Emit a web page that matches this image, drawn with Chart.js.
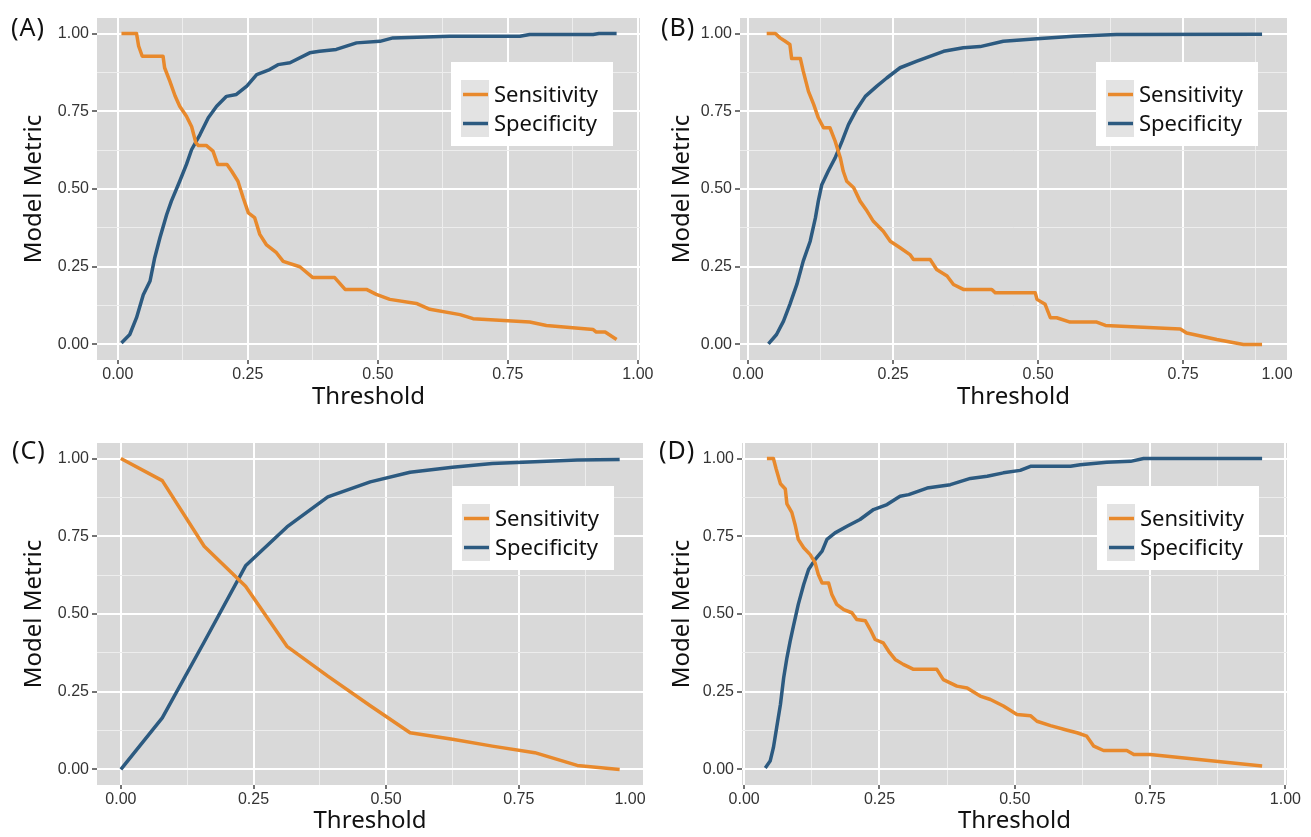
<!DOCTYPE html>
<html>
<head>
<meta charset="utf-8">
<script src="https://cdn.jsdelivr.net/npm/chart.js@4.4.0/dist/chart.umd.min.js"></script>
<style>
  body { margin: 0; background: #fff; }
  #wrap { position: relative; width: 1311px; height: 837px; overflow: hidden; }
  .panel { position: absolute; }
  .tag { position: absolute; font-family: "Noto Sans"; font-size: 25px; line-height: 1; color: #111; letter-spacing: 1px; }
</style>
</head>
<body>
<div id="wrap">
  <canvas id="cA" class="panel" width="655" height="418" style="left:0;top:0"></canvas>
  <canvas id="cB" class="panel" width="656" height="418" style="left:655px;top:0"></canvas>
  <canvas id="cC" class="panel" width="655" height="419" style="left:0;top:418px"></canvas>
  <canvas id="cD" class="panel" width="656" height="419" style="left:655px;top:418px"></canvas>
  <div class="tag" style="left:11px;top:14px">(A)</div>
  <div class="tag" style="left:661px;top:14px">(B)</div>
  <div class="tag" style="left:12px;top:437px">(C)</div>
  <div class="tag" style="left:659px;top:437px">(D)</div>
</div>
<script>
// 시리즈 이름
var seriesNames = ['Sensitivity', 'Specificity'];
var lineColor = ['#E8892C', '#2C5A80'];
// 눈금 (0.125 간격, 0.25 는 major)
var gridTicks = [0, 0.125, 0.25, 0.375, 0.5, 0.625, 0.75, 0.875, 1.0];

// (A)
var aSensThr = [0.007, 0.036, 0.040, 0.047, 0.087, 0.090, 0.100, 0.110, 0.119, 0.132, 0.142, 0.150, 0.155, 0.170, 0.183, 0.192, 0.210, 0.219, 0.231, 0.241, 0.251, 0.263, 0.273, 0.286, 0.305, 0.318, 0.350, 0.375, 0.417, 0.437, 0.478, 0.497, 0.523, 0.574, 0.600, 0.658, 0.683, 0.792, 0.824, 0.914, 0.920, 0.937, 0.959];
var aSensVal = [1.0, 1.0, 0.96, 0.927, 0.927, 0.89, 0.847, 0.80, 0.766, 0.734, 0.70, 0.649, 0.64, 0.64, 0.622, 0.579, 0.579, 0.557, 0.525, 0.472, 0.423, 0.408, 0.354, 0.32, 0.295, 0.267, 0.25, 0.215, 0.215, 0.177, 0.177, 0.161, 0.145, 0.132, 0.113, 0.096, 0.083, 0.072, 0.061, 0.048, 0.04, 0.04, 0.016];
var aSpecThr = [0.007, 0.023, 0.036, 0.049, 0.062, 0.071, 0.081, 0.094, 0.103, 0.119, 0.132, 0.142, 0.158, 0.174, 0.190, 0.209, 0.228, 0.248, 0.267, 0.292, 0.308, 0.331, 0.369, 0.388, 0.420, 0.459, 0.504, 0.529, 0.638, 0.773, 0.792, 0.914, 0.925, 0.959];
var aSpecVal = [0.005, 0.032, 0.086, 0.16, 0.204, 0.279, 0.343, 0.418, 0.461, 0.525, 0.579, 0.627, 0.675, 0.729, 0.766, 0.798, 0.804, 0.831, 0.868, 0.884, 0.90, 0.906, 0.938, 0.943, 0.949, 0.97, 0.975, 0.986, 0.991, 0.991, 0.997, 0.997, 1.0, 1.0];

// (B)
var bSensThr = [0.032, 0.047, 0.055, 0.064, 0.072, 0.075, 0.090, 0.095, 0.104, 0.113, 0.121, 0.130, 0.141, 0.150, 0.159, 0.164, 0.170, 0.182, 0.193, 0.205, 0.216, 0.233, 0.245, 0.262, 0.279, 0.285, 0.314, 0.325, 0.343, 0.354, 0.371, 0.420, 0.426, 0.495, 0.498, 0.512, 0.521, 0.532, 0.555, 0.601, 0.616, 0.745, 0.756, 0.808, 0.854, 0.886];
var bSensVal = [1.0, 1.0, 0.986, 0.975, 0.965, 0.92, 0.92, 0.879, 0.814, 0.772, 0.729, 0.697, 0.697, 0.654, 0.60, 0.557, 0.525, 0.504, 0.461, 0.429, 0.396, 0.364, 0.332, 0.311, 0.289, 0.273, 0.273, 0.241, 0.22, 0.193, 0.177, 0.177, 0.166, 0.166, 0.145, 0.129, 0.086, 0.086, 0.072, 0.072, 0.061, 0.05, 0.037, 0.016, 0.0, 0.0];
var bSpecThr = [0.035, 0.049, 0.061, 0.072, 0.084, 0.095, 0.107, 0.116, 0.121, 0.127, 0.138, 0.150, 0.162, 0.173, 0.187, 0.202, 0.222, 0.239, 0.262, 0.291, 0.337, 0.371, 0.400, 0.440, 0.498, 0.561, 0.635, 0.886];
var bSpecVal = [0.002, 0.032, 0.075, 0.129, 0.193, 0.268, 0.332, 0.407, 0.461, 0.514, 0.557, 0.60, 0.654, 0.707, 0.756, 0.798, 0.831, 0.857, 0.89, 0.911, 0.943, 0.954, 0.958, 0.975, 0.983, 0.991, 0.997, 0.998];

// (C)
var cThr = [0, 0.078, 0.157, 0.235, 0.313, 0.39, 0.47, 0.545, 0.625, 0.70, 0.78, 0.86, 0.94];
var cSensVal = [1.0, 0.929, 0.718, 0.589, 0.396, 0.30, 0.205, 0.118, 0.097, 0.075, 0.054, 0.013, 0.0];
var cSpecVal = [0.0, 0.166, 0.41, 0.655, 0.78, 0.877, 0.925, 0.956, 0.972, 0.984, 0.99, 0.995, 0.997];

// (D)
var dSensThr = [0.042, 0.054, 0.059, 0.067, 0.076, 0.079, 0.088, 0.094, 0.100, 0.110, 0.122, 0.131, 0.137, 0.144, 0.156, 0.162, 0.171, 0.184, 0.199, 0.208, 0.224, 0.233, 0.242, 0.257, 0.267, 0.279, 0.294, 0.313, 0.356, 0.368, 0.393, 0.412, 0.436, 0.455, 0.479, 0.504, 0.529, 0.541, 0.566, 0.597, 0.615, 0.633, 0.646, 0.664, 0.707, 0.720, 0.750, 0.957];
var dSensVal = [1.0, 1.0, 0.967, 0.919, 0.902, 0.854, 0.827, 0.788, 0.74, 0.713, 0.691, 0.665, 0.627, 0.60, 0.60, 0.563, 0.531, 0.514, 0.504, 0.482, 0.478, 0.45, 0.418, 0.407, 0.38, 0.354, 0.338, 0.322, 0.322, 0.289, 0.268, 0.262, 0.236, 0.225, 0.204, 0.177, 0.173, 0.155, 0.141, 0.126, 0.118, 0.107, 0.075, 0.061, 0.061, 0.048, 0.048, 0.011];
var dSpecThr = [0.039, 0.048, 0.054, 0.060, 0.067, 0.073, 0.079, 0.085, 0.091, 0.100, 0.110, 0.119, 0.131, 0.144, 0.153, 0.168, 0.190, 0.214, 0.239, 0.264, 0.288, 0.304, 0.338, 0.381, 0.418, 0.449, 0.479, 0.510, 0.529, 0.603, 0.621, 0.670, 0.714, 0.738, 0.957];
var dSpecVal = [0.005, 0.027, 0.07, 0.134, 0.209, 0.295, 0.359, 0.413, 0.461, 0.531, 0.595, 0.643, 0.675, 0.702, 0.74, 0.761, 0.782, 0.804, 0.836, 0.852, 0.879, 0.884, 0.905, 0.916, 0.936, 0.943, 0.954, 0.962, 0.975, 0.975, 0.98, 0.988, 0.991, 1.0, 1.0];

const tickFont = { family: 'Liberation Sans', size: 16 };
const tickColor = '#333';
const titleFont = { family: 'Noto Sans', size: 24 };

// 패널 배경 (ggplot 회색)
const plotBg = {
  id: 'plotBg',
  beforeDraw(chart) {
    const a = chart.chartArea, ctx = chart.ctx;
    ctx.save();
    ctx.fillStyle = '#D9D9D9';
    ctx.fillRect(a.left, a.top, a.right - a.left, a.bottom - a.top);
    ctx.restore();
  }
};

// 패널 안쪽 범례
const insetLegend = {
  id: 'insetLegend',
  afterDraw(chart, args, opts) {
    const a = chart.chartArea, ctx = chart.ctx;
    const w = 162, h = 84;
    const x0 = a.right - opts.right - w, y0 = a.top + opts.top;
    ctx.save();
    ctx.fillStyle = '#FFFFFF';
    ctx.fillRect(x0, y0, w, h);
    ctx.fillStyle = '#E3E3E3';
    ctx.fillRect(x0 + 10, y0 + 18, 28, 57);
    chart.data.datasets.forEach((ds, i) => {
      const y = y0 + 32.5 + i * 29;
      ctx.strokeStyle = ds.borderColor;
      ctx.lineWidth = 3.5;
      ctx.beginPath();
      ctx.moveTo(x0 + 12, y);
      ctx.lineTo(x0 + 37, y);
      ctx.stroke();
      ctx.fillStyle = '#111';
      ctx.font = '22px "Noto Sans"';
      ctx.textBaseline = 'middle';
      ctx.fillText(ds.label, x0 + 43, y + 1);
    });
    ctx.restore();
  }
};

// 오른쪽 끝 "1.00" 라벨 (축 범위 밖인 패널)
const edgeLabel = {
  id: 'edgeLabel',
  afterDraw(chart, args, opts) {
    if (!opts.text) return;
    const xs = chart.scales.x, ctx = chart.ctx;
    ctx.save();
    ctx.fillStyle = tickColor;
    ctx.font = tickFont.size + 'px "' + tickFont.family + '"';
    ctx.textAlign = 'center';
    ctx.textBaseline = 'middle';
    ctx.fillText(opts.text, chart.chartArea.right - opts.inset, xs.top + 4 + 1 + tickFont.size * 0.6);
    ctx.restore();
  }
};

function isMajor(v) {
  return Math.abs(v * 4 - Math.round(v * 4)) < 1e-6;
}

function toPoints(thr, val) {
  return thr.map((t, i) => ({ x: t, y: val[i] }));
}

function gridStyle(tl) {
  return {
    color: (c) => (c.tick && isMajor(c.tick.value) ? '#FFFFFF' : '#EDEDED'),
    lineWidth: (c) => (c.tick && isMajor(c.tick.value) ? 2 : 1),
    tickColor: (c) => (c.tick && isMajor(c.tick.value) ? '#444' : 'rgba(0,0,0,0)'),
    tickLength: tl,
    tickWidth: 1.5,
  };
}

function createChart(p) {
  const canvas = document.querySelector(p.id);
  const cfg = {
    type: 'line',
    data: {
      datasets: [
        { label: seriesNames[0], data: toPoints(p.sensThr, p.sensVal), borderColor: lineColor[0] },
        { label: seriesNames[1], data: toPoints(p.specThr, p.specVal), borderColor: lineColor[1] },
      ],
    },
    options: {
      responsive: false,
      animation: false,
      events: [],
      layout: { padding: { top: p.padTop, right: p.padRight, left: 0, bottom: 0 } },
      elements: {
        point: { radius: 0 },
        line: { borderWidth: 3.5, tension: 0, borderJoinStyle: 'round', fill: false },
      },
      plugins: {
        legend: { display: false },
        tooltip: { enabled: false },
        insetLegend: { right: p.legRight, top: p.legTop },
        edgeLabel: { text: p.edgeText, inset: p.edgeInset },
      },
      scales: {
        x: {
          type: 'linear',
          min: p.xMin,
          max: p.xMax,
          afterBuildTicks: (s) => {
            s.ticks = gridTicks.filter((v) => v >= s.min && v <= s.max).map((v) => ({ value: v }));
          },
          afterFit: (s) => {
            s.height = p.xAxisH;
            s.paddingLeft = 0;
            s.paddingRight = 0;
          },
          grid: gridStyle(4),
          border: { display: false },
          ticks: {
            autoSkip: false,
            maxRotation: 0,
            padding: 1,
            font: tickFont,
            color: tickColor,
            callback: (v) => (isMajor(v) ? v.toFixed(2) : ''),
          },
          title: {
            display: true,
            text: 'Threshold',
            font: titleFont,
            color: '#111',
            padding: { top: 0, bottom: p.xTitlePad },
          },
        },
        y: {
          type: 'linear',
          min: -0.05,
          max: 1.05,
          afterBuildTicks: (s) => {
            s.ticks = gridTicks.map((v) => ({ value: v }));
          },
          afterFit: (s) => {
            s.width = p.yAxisW;
            s.paddingTop = 0;
            s.paddingBottom = 0;
          },
          grid: gridStyle(5),
          border: { display: false },
          ticks: {
            autoSkip: false,
            padding: 3,
            font: tickFont,
            color: tickColor,
            callback: (v) => (isMajor(v) ? v.toFixed(2) : ''),
          },
          title: {
            display: true,
            text: 'Model Metric',
            font: titleFont,
            color: '#111',
            padding: { top: p.yTitlePad, bottom: 0 },
          },
        },
      },
    },
    plugins: [plotBg, insetLegend, edgeLabel],
  };
  return new Chart(canvas, cfg);
}

Chart.defaults.font.family = 'Liberation Sans';

createChart({ id: '#cA', sensThr: aSensThr, sensVal: aSensVal, specThr: aSpecThr, specVal: aSpecVal,
  xMin: -0.04, xMax: 1.004, yAxisW: 97, xAxisH: 58, padTop: 18, padRight: 15,
  yTitlePad: 20, xTitlePad: 6, legRight: 27, legTop: 44, edgeText: '', edgeInset: 0 });
createChart({ id: '#cB', sensThr: bSensThr, sensVal: bSensVal, specThr: bSpecThr, specVal: bSpecVal,
  xMin: -0.014, xMax: 0.929, yAxisW: 85, xAxisH: 58, padTop: 18, padRight: 24,
  yTitlePad: 13, xTitlePad: 6, legRight: 29, legTop: 44, edgeText: '1.00', edgeInset: 10 });
createChart({ id: '#cC', sensThr: cThr, sensVal: cSensVal, specThr: cThr, specVal: cSpecVal,
  xMin: -0.045, xMax: 0.984, yAxisW: 97, xAxisH: 52, padTop: 25, padRight: 12,
  yTitlePad: 20, xTitlePad: 1, legRight: 29, legTop: 43, edgeText: '1.00', edgeInset: 13 });
createChart({ id: '#cD', sensThr: dSensThr, sensVal: dSensVal, specThr: dSpecThr, specVal: dSpecVal,
  xMin: -0.004, xMax: 1.003, yAxisW: 87, xAxisH: 52, padTop: 25, padRight: 24,
  yTitlePad: 13, xTitlePad: 1, legRight: 28, legTop: 43, edgeText: '', edgeInset: 0 });
</script>
</body>
</html>
